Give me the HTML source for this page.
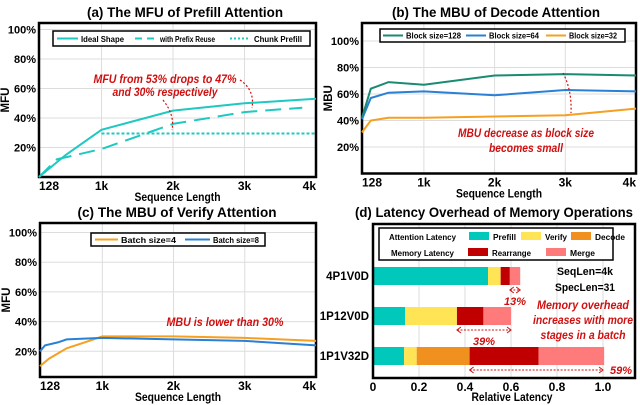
<!DOCTYPE html>
<html><head><meta charset="utf-8"><style>
body{margin:0;background:#fff}
svg{display:block;font-family:"Liberation Sans",sans-serif}
</style></head><body>
<svg id="s" width="640" height="405" viewBox="0 0 640 405"></svg>
<script>
// ---- data ----
const seqA=[128,256,512,1024,2048,3072,4096];
const idealA=[0,5,15,32,45,50,53];
const seqPrefix=[128,384,1024,2048,3072,3900];
const prefixA=[0,12,19,36,44,47];
const seqChunk=[1024,2048,3072,4096];
const chunkA=[29.5,29.5,29.5,29.5];
const seqB=[128,256,512,1024,2048,3072,4096];
const blk128=[42,64,69,67,74,75,74];
const blk64=[41,57,61,62,59,63,62];
const blk32=[31,40,42,42,43,44,49];
const seqC=[128,256,512,768,1024,2048,3072,4096];
const batch4=[10,15,22,26,30,30,29,27];
const seqC8=[128,200,384,512,1024,2048,3072,4096];
const batch8=[20,24,26,28,29,28,27,24];
const xTicks=[128,1024,2048,3072,4096];
const xTickLabels=["128","1k","2k","3k","4k"];
const yTicks=[20,40,60,80,100];
const barCats=["4P1V0D","1P12V0D","1P1V32D"];
const prefillD=[0.50,0.14,0.135];
const verifyD=[0.055,0.225,0.055];
const decodeD=[0,0,0.23];
const rearrD=[0.04,0.115,0.30];
const mergeD=[0.045,0.12,0.285];
const relTicks=[0,0.2,0.4,0.6,0.8,1.0];

const S=document.getElementById('s');const NS='http://www.w3.org/2000/svg';
function el(t,a,txt,p){const e=document.createElementNS(NS,t);for(const k in a)e.setAttribute(k,a[k]);if(a.textLength)e.setAttribute('lengthAdjust','spacingAndGlyphs');if(txt!=null)e.textContent=txt;(p||S).appendChild(e);return e;}
function line(xs,ys,X,Y,col,dash,name){
  const d=xs.map((v,i)=>(i?'L':'M')+X(v).toFixed(1)+' '+Y(ys[i]).toFixed(1)).join('');
  const p=el('path',{d:d,fill:'none',stroke:col,'stroke-width':2,'stroke-dasharray':dash||'none'});
  
  
}
function red(x,y,s,w,fs){const an=el('text',{x:x,y:y,'text-anchor':'middle','font-size':fs||11.5,'font-style':'italic','font-weight':'bold',fill:'#d01010',textLength:w},s);
 }
function panel(o){
  const X=v=>o.x0+(v/1024-0.125)/(3.875)*(o.x1-o.x0);
  const Y=v=>o.yz-v*o.yk;
  xTicks.forEach((t,i)=>{el('line',{x1:X(t),x2:X(t),y1:o.top,y2:o.bot,stroke:'#ddd','stroke-width':1});
    const tl=el('text',{x:X(t),y:o.bot+13,'text-anchor':i==4?'end':(i==0?'start':'middle'),'font-size':12,'font-weight':'bold'},xTickLabels[i]);
    });
  yTicks.forEach(t=>{el('line',{x1:o.x0,x2:o.x1,y1:Y(t),y2:Y(t),stroke:'#ddd','stroke-width':1});
    const tl=el('text',{x:o.x0-3,y:Y(t)+4,'text-anchor':'end','font-size':11,'font-weight':'bold'},t+'%');
    });
  const f=el('rect',{x:o.x0,y:o.top,width:o.x1-o.x0,height:o.bot-o.top,fill:'none',stroke:'#000','stroke-width':2.5});
  
  const t=el('text',{x:o.tc,y:o.top-6,'text-anchor':'middle','font-size':13.5,'font-weight':'bold',textLength:o.tw},o.title);
  
  const xl=el('text',{x:(o.x0+o.x1)/2,y:o.bot+24,'text-anchor':'middle','font-size':12,'font-weight':'bold',textLength:86},'Sequence Length');
  
  const cy=(o.top+o.bot)/2;
  const yl=el('text',{x:o.x0-30,y:cy,'text-anchor':'middle','font-size':11.5,'font-weight':'bold',transform:`rotate(-90 ${o.x0-30} ${cy})`},o.ylab);
  
  return {X,Y};
}
function lt(x,y,s,w,g){el('text',{x:x,y:y,'font-size':8,'font-weight':'bold',textLength:w},s,g);}
// (a)
let A=panel({x0:39,x1:316,top:23,bot:177,yz:177,yk:1.475,title:'(a) The MFU of Prefill Attention',ylab:'MFU',tc:185,tw:196});
line(seqChunk,chunkA,A.X,A.Y,'#1fc8c0','3 2','chunk-prefill-line');
line(seqPrefix,prefixA,A.X,A.Y,'#1fc8c0','16 8','prefix-reuse-line');
line(seqA,idealA,A.X,A.Y,'#1fc8c0',null,'ideal-shape-line');
let g=el('g',{});
el('rect',{x:53,y:31,width:257,height:15,fill:'#fff',stroke:'#000','stroke-width':1.5},null,g);
el('line',{x1:57,x2:78,y1:38.5,y2:38.5,stroke:'#1fc8c0','stroke-width':2},null,g);
lt(81,42,'Ideal Shape',43,g);
el('line',{x1:135,x2:155,y1:38.5,y2:38.5,stroke:'#1fc8c0','stroke-width':2,'stroke-dasharray':'7 5'},null,g);
lt(160,42,'with Prefix Reuse',55,g);
el('line',{x1:230,x2:250,y1:38.5,y2:38.5,stroke:'#1fc8c0','stroke-width':2,'stroke-dasharray':'2 2'},null,g);
lt(254,42,'Chunk Prefill',48,g);
red(165,83,'MFU from 53% drops to 47%',143);
red(165,96,'and 30% respectively',105);
el('path',{d:'M163,100 Q175,115 172,130',fill:'none',stroke:'#d01010','stroke-width':1.2,'stroke-dasharray':'2 2'});
el('path',{d:'M240,80 Q255,90 252,108',fill:'none',stroke:'#d01010','stroke-width':1.2,'stroke-dasharray':'2 2'});
// (b)
let B=panel({x0:362,x1:636,top:23,bot:173.5,yz:173.5,yk:1.325,title:'(b) The MBU of Decode Attention',ylab:'MBU',tc:496,tw:208});
line(seqB,blk32,B.X,B.Y,'#f5a020',null,'block-32-line');
line(seqB,blk64,B.X,B.Y,'#2a80d5',null,'block-64-line');
line(seqB,blk128,B.X,B.Y,'#1a8a72',null,'block-128-line');
g=el('g',{});
el('rect',{x:380,y:29,width:245,height:13,fill:'#fff',stroke:'#000','stroke-width':1.5},null,g);
[['#1a8a72','Block size=128',383,55],['#2a80d5','Block size=64',466,50],['#f5a020','Block size=32',546,48]].forEach(a=>{
 el('line',{x1:a[2],x2:a[2]+20,y1:35.5,y2:35.5,stroke:a[0],'stroke-width':2},null,g);
 lt(a[2]+23,38.5,a[1],a[3],g);});
red(526,137,'MBU decrease as block size',136);
red(526,152,'becomes small',74);
el('path',{d:'M563,73 Q572,90 571,113',fill:'none',stroke:'#d01010','stroke-width':1.2,'stroke-dasharray':'2 2'});
// (c)
let C=panel({x0:40,x1:316,top:223,bot:377,yz:381,yk:1.485,title:'(c) The MBU of Verify Attention',ylab:'MFU',tc:177,tw:199});
line(seqC,batch4,C.X,C.Y,'#f5a020',null,'batch-4-line');
line(seqC8,batch8,C.X,C.Y,'#2a80d5',null,'batch-8-line');
g=el('g',{});
el('rect',{x:91,y:233,width:174,height:13,fill:'#fff',stroke:'#000','stroke-width':1.5},null,g);
el('line',{x1:95,x2:118,y1:239.5,y2:239.5,stroke:'#f5a020','stroke-width':2},null,g);
lt(121,243,'Batch size=4',55,g);
el('line',{x1:185,x2:210,y1:239.5,y2:239.5,stroke:'#2a80d5','stroke-width':2},null,g);
lt(213,243,'Batch size=8',46,g);
red(225,326,'MBU is lower than 30%',117);
// (d)
const dx0=373,dx1=635,dtop=224,dbot=378,dk=230;
const DX=v=>dx0+v*dk;
const barY=[267,307,347],bh=18;
relTicks.forEach(t=>{el('line',{x1:DX(t),x2:DX(t),y1:dtop,y2:dbot,stroke:'#ddd'});
 const tl=el('text',{x:DX(t),y:dbot+13,'text-anchor':'middle','font-size':12,'font-weight':'bold'},t==0?'0':t.toFixed(1));
 });
const segs=[[prefillD,'#00c8ba','prefill'],[verifyD,'#ffe455','verify'],[decodeD,'#f0901e','decode'],[rearrD,'#c00000','rearrange'],[mergeD,'#ff7b7b','merge']];
barCats.forEach((c,i)=>{let acc=0;
 segs.forEach(s=>{const v=s[0][i];if(v>0){const r=el('rect',{x:DX(acc),y:barY[i],width:DX(acc+v)-DX(acc),height:bh,fill:s[1]});
  }acc+=v;});
 const tl=el('text',{x:dx0-4,y:barY[i]+13,'text-anchor':'end','font-size':11.5,'font-weight':'bold'},c);
 });
let f=el('rect',{x:dx0,y:dtop,width:dx1-dx0,height:dbot-dtop,fill:'none',stroke:'#000','stroke-width':2.5});

let t=el('text',{x:494,y:217,'text-anchor':'middle','font-size':13.5,'font-weight':'bold',textLength:278},'(d) Latency Overhead of Memory Operations');

t=el('text',{x:512,y:401,'text-anchor':'middle','font-size':12,'font-weight':'bold',textLength:81},'Relative Latency');

g=el('g',{});
el('rect',{x:379,y:228,width:234,height:32,fill:'#fff',stroke:'#000','stroke-width':1.5},null,g);
lt(389,240,'Attention Latency',67,g);
lt(391,256,'Memory Latency',63,g);
[[469,232,'#00c8ba','Prefill',23],[521,232,'#ffe455','Verify',22],[571,232,'#f0901e','Decode',30],[468,248,'#c00000','Rearrange',39],[546,248,'#ff7b7b','Merge',25]].forEach(a=>{
 el('rect',{x:a[0],y:a[1],width:20,height:8,fill:a[2]},null,g);
 lt(a[0]+24,a[1]+8,a[3],a[4],g);});
el('text',{x:585,y:275,'text-anchor':'middle','font-size':11,'font-weight':'bold',textLength:56},'SeqLen=4k');
el('text',{x:585,y:291,'text-anchor':'middle','font-size':11,'font-weight':'bold',textLength:60},'SpecLen=31');
red(583,309,'Memory overhead',92);
red(583,324,'increases with more',100);
red(583,339,'stages in a batch',85);
[[0.595,0.64,290,'13%',305],[0.365,0.60,330,'39%',345],[0.42,1.0,370,'59%',374]].forEach((a,i)=>{
 el('line',{x1:DX(a[0]),x2:DX(a[1]),y1:a[2],y2:a[2],stroke:'#d01010','stroke-width':1,'stroke-dasharray':'2 1.5'});
 el('path',{d:`M${DX(a[0])+4},${a[2]-3}L${DX(a[0])},${a[2]}L${DX(a[0])+4},${a[2]+3}M${DX(a[1])-4},${a[2]-3}L${DX(a[1])},${a[2]}L${DX(a[1])-4},${a[2]+3}`,fill:'none',stroke:'#d01010'});
 const lx=i==2?DX(a[1])+18:(DX(a[0])+DX(a[1]))/2;
 red(lx,a[4],a[3],null,11);});
</script>
</body></html>
